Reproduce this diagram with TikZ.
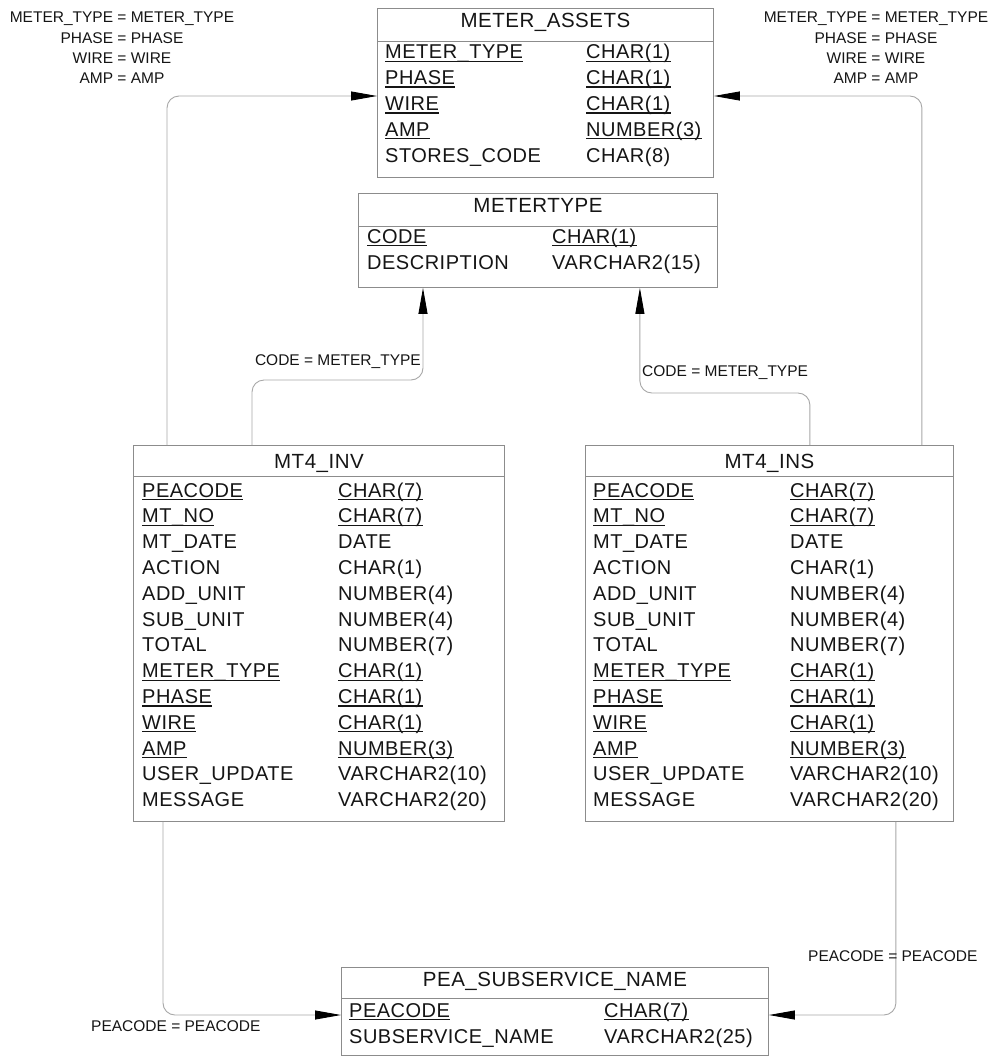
\documentclass[tikz,border=0pt]{standalone}
\usepackage{fontspec}
\setmainfont{Liberation Sans}
\newfontfamily\fieldfont[LetterSpace=2.5]{Liberation Sans}
\usetikzlibrary{arrows.meta}
\definecolor{boxgray}{HTML}{8C8C8C}
\definecolor{linegray}{HTML}{A8A8A8}
\definecolor{ink}{HTML}{151515}

% rows of a table: prefix, x of names, x of types, first baseline, row step, list name/type/key
\newcommand\tablerows[6]{%
  \foreach \nm/\ty/\k [count=\i from 0] in {#6}{%
    \pgfmathsetmacro\yy{#4+#5*\i}
    \node[fld] (#1n\i) at (#2,\yy) {\nm};
    \node[fld] (#1t\i) at (#3,\yy) {\ty};
    \ifnum\k=1
      \draw[keyline] ([yshift=-2.6pt]#1n\i.base west) -- ([yshift=-2.6pt]#1n\i.base east);
      \draw[keyline] ([yshift=-2.6pt]#1t\i.base west) -- ([yshift=-2.6pt]#1t\i.base east);
    \fi
  }%
}

\begin{document}
\begin{tikzpicture}[x=1pt,y=-1pt,
  tbl/.style={draw=boxgray, line width=0.9pt, rectangle, inner sep=0pt, anchor=north west},
  sep/.style={draw=boxgray, line width=0.9pt},
  fld/.style={anchor=base west, inner sep=0pt, text=ink, font=\fieldfont\fontsize{20}{24}\selectfont},
  ttl/.style={anchor=base, inner sep=0pt, text=ink, font=\fieldfont\fontsize{20.5}{24}\selectfont},
  keyline/.style={draw=ink, line width=1.2pt},
  conn/.style={draw=linegray, line width=0.9pt, rounded corners=12pt,
    -{Triangle[length=26pt,width=9pt,color=black]}},
  rel/.style={inner sep=0pt, text=ink, font=\fontsize{15.5}{20.3}\selectfont}]

\fill[white] (0,0) rectangle (995,1058);
\useasboundingbox (0,0) rectangle (995,1058);

% ---- tables ----
\node[tbl, minimum width=336pt, minimum height=169pt] (assets) at (377,8) {};
\draw[sep] ([yshift=-33pt]assets.north west) -- ([yshift=-33pt]assets.north east);
\node[ttl] (assets-h) at ([yshift=-19pt]assets.north) {METER\_ASSETS};
\tablerows{as}{385}{586}{58.5}{25.9}{METER\_TYPE/CHAR(1)/1, PHASE/CHAR(1)/1, WIRE/CHAR(1)/1, AMP/NUMBER(3)/1, STORES\_CODE/CHAR(8)/0}

\node[tbl, minimum width=359pt, minimum height=94pt] (mtype) at (358,193) {};
\draw[sep] ([yshift=-33.5pt]mtype.north west) -- ([yshift=-33.5pt]mtype.north east);
\node[ttl] (mtype-h) at ([yshift=-19pt]mtype.north) {METERTYPE};
\tablerows{mt}{367}{552}{243}{26.5}{CODE/CHAR(1)/1, DESCRIPTION/VARCHAR2(15)/0}

\node[tbl, minimum width=371pt, minimum height=376pt] (inv) at (133,445) {};
\draw[sep] ([yshift=-31pt]inv.north west) -- ([yshift=-31pt]inv.north east);
\node[ttl] (inv-h) at ([yshift=-23pt]inv.north) {MT4\_INV};
\tablerows{iv}{142}{338}{497}{25.8}{PEACODE/CHAR(7)/1, MT\_NO/CHAR(7)/1, MT\_DATE/DATE/0, ACTION/CHAR(1)/0, ADD\_UNIT/NUMBER(4)/0, SUB\_UNIT/NUMBER(4)/0, TOTAL/NUMBER(7)/0, METER\_TYPE/CHAR(1)/1, PHASE/CHAR(1)/1, WIRE/CHAR(1)/1, AMP/NUMBER(3)/1, USER\_UPDATE/VARCHAR2(10)/0, MESSAGE/VARCHAR2(20)/0}

\node[tbl, minimum width=368pt, minimum height=376pt] (ins) at (585,445) {};
\draw[sep] ([yshift=-31pt]ins.north west) -- ([yshift=-31pt]ins.north east);
\node[ttl] (ins-h) at ([yshift=-23pt]ins.north) {MT4\_INS};
\tablerows{is}{593}{790}{497}{25.8}{PEACODE/CHAR(7)/1, MT\_NO/CHAR(7)/1, MT\_DATE/DATE/0, ACTION/CHAR(1)/0, ADD\_UNIT/NUMBER(4)/0, SUB\_UNIT/NUMBER(4)/0, TOTAL/NUMBER(7)/0, METER\_TYPE/CHAR(1)/1, PHASE/CHAR(1)/1, WIRE/CHAR(1)/1, AMP/NUMBER(3)/1, USER\_UPDATE/VARCHAR2(10)/0, MESSAGE/VARCHAR2(20)/0}

\node[tbl, minimum width=427pt, minimum height=88pt] (pea) at (341,967) {};
\draw[sep] ([yshift=-31pt]pea.north west) -- ([yshift=-31pt]pea.north east);
\node[ttl] (pea-h) at ([yshift=-19pt]pea.north) {PEA\_SUBSERVICE\_NAME};
\tablerows{pe}{349}{604}{1017}{26}{PEACODE/CHAR(7)/1, SUBSERVICE\_NAME/VARCHAR2(25)/0}

% ---- relationships ----
\draw[conn] ([xshift=34pt]inv.north west) |- ([yshift=-88pt]assets.north west);
\draw[conn] ([xshift=-32pt]ins.north east) |- ([yshift=-88pt]assets.north east);
\draw[conn] ([xshift=119pt]inv.north west) -- ++(0,-65) -| ([xshift=65pt]mtype.south west);
\draw[conn] ([xshift=-144pt]ins.north east) -- ++(0,-52) -| ([xshift=-78pt]mtype.south east);
\draw[conn] ([xshift=30pt]inv.south west) |- ([yshift=-48pt]pea.north west);
\draw[conn] ([xshift=-58pt]ins.south east) |- ([yshift=-48pt]pea.north east);

% ---- join conditions ----
\node[rel, align=center, anchor=north] (lbl-asl) at (122,12)
  {METER\_TYPE = METER\_TYPE\\PHASE = PHASE\\WIRE = WIRE\\AMP = AMP};
\node[rel, align=center, anchor=north] (lbl-asr) at (876,12)
  {METER\_TYPE = METER\_TYPE\\PHASE = PHASE\\WIRE = WIRE\\AMP = AMP};
\node[rel, anchor=base east] (lbl-mtl) at (421,365.5) {CODE = METER\_TYPE};
\node[rel, anchor=base west] (lbl-mtr) at (642,376.5) {CODE = METER\_TYPE};
\node[rel, anchor=base west] (lbl-pel) at (91,1031.5) {PEACODE = PEACODE};
\node[rel, anchor=base west] (lbl-per) at (808,961.5) {PEACODE = PEACODE};
\end{tikzpicture}
\end{document}
